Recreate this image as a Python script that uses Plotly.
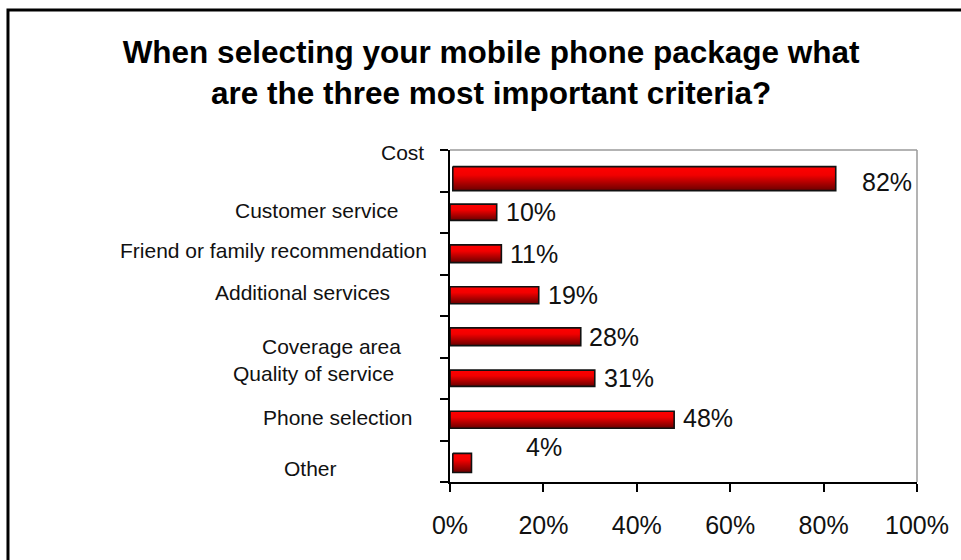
import plotly.graph_objects as go

# ---- data -------------------------------------------------------------
criteria = [
    "Cost",
    "Customer service",
    "Friend or family recommendation",
    "Additional services",
    "Coverage area",
    "Quality of service",
    "Phone selection",
    "Other",
]
share_pct = [82, 10, 11, 19, 28, 31, 48, 4]
x_ticks = [0, 20, 40, 60, 80, 100]
x_tick_labels = [f"{t}%" for t in x_ticks]

title_text = ("When selecting your mobile phone package what<br>"
              "are the three most important criteria?")

# ---- per-bar styling ----------------------------------------------------
# bar thickness and vertical shift in category units, start offset in %
bar_thickness = [0.58, 0.39, 0.43, 0.41, 0.43, 0.39, 0.41, 0.46]
bar_shift = [0.19, 0.0, 0.0, 0.0, 0.0, 0.0, 0.0, 0.04]
bar_start = [0.6, 0.0, 0.0, 0.0, 0.0, 0.0, 0.0, 0.6]

# category label placement: (right-edge shift px, vertical shift px)
label_dx = [-24, -50, -21, -58, -47, -54, -36, -111]
label_dy = [18, 2, 3, 2.5, -10, 5, 2, -7]

# value label placement: (horizontal gap px, vertical shift px)
value_dx = [24, 7, 7, 7, 6, 7, 7, 53]
value_dy = [-11, 0, 0, 0, 0, 0, 1.5, 14.5]

FONT = "Liberation Sans, Arial, sans-serif"
bar_gradient = [[0.0, "#ff0000"], [0.35, "#f20000"], [1.0, "#6a0000"]]

fig = go.Figure()

for k, (name, v) in enumerate(zip(criteria, share_pct)):
    x0 = bar_start[k]
    x1 = bar_start[k] + v
    yc = k + bar_shift[k]
    h = bar_thickness[k] / 2
    fig.add_trace(go.Scatter(
        x=[x0, x1, x1, x0, x0],
        y=[yc - h, yc - h, yc + h, yc + h, yc - h],
        mode="lines",
        fill="toself",
        fillgradient=dict(type="vertical", colorscale=bar_gradient,
                          start=yc - h, stop=yc + h),
        line=dict(color="#111111", width=1.6),
        name=name,
        hoverinfo="skip",
        showlegend=False,
    ))

annotations = []
for k, name in enumerate(criteria):
    annotations.append(dict(
        x=0, y=k, xref="x", yref="y", text=name, showarrow=False,
        xanchor="right", yanchor="middle",
        xshift=label_dx[k], yshift=label_dy[k],
        font=dict(family=FONT, size=21, color="#111111"),
    ))
for k, v in enumerate(share_pct):
    annotations.append(dict(
        x=bar_start[k] + v, y=k, xref="x", yref="y", text=f"{v}%",
        showarrow=False, xanchor="left", yanchor="middle",
        xshift=value_dx[k], yshift=value_dy[k],
        font=dict(family=FONT, size=25, color="#111111"),
    ))

shapes = [
    # outer frame
    dict(type="rect", xref="paper", yref="paper",
         x0=-0.9465, x1=1.12, y0=-0.3, y1=1.4217,
         line=dict(color="#000000", width=3), layer="below"),
    # light plot-area border on top and right
    dict(type="line", xref="paper", yref="paper", x0=0, x1=1, y0=1, y1=1,
         line=dict(color="#9a9a9a", width=1.5)),
    dict(type="line", xref="paper", yref="paper", x0=1, x1=1, y0=0, y1=1,
         line=dict(color="#9a9a9a", width=1.5)),
]

fig.update_layout(
    width=961, height=560,
    margin=dict(l=450, r=44, t=150, b=78),
    paper_bgcolor="white", plot_bgcolor="white",
    title=dict(text=title_text, x=0.511, xref="container", xanchor="center",
               y=0.888, yref="container", yanchor="top",
               font=dict(family=FONT, size=31.5, color="#000000", weight="bold")),
    annotations=annotations,
    shapes=shapes,
    showlegend=False,
)

fig.update_xaxes(
    range=[0, 100], tickvals=x_ticks, ticktext=x_tick_labels,
    ticks="outside", ticklen=8, tickcolor="#000000", tickwidth=1.5,
    showline=True, linecolor="#000000", linewidth=1.5,
    showgrid=False, zeroline=False,
    tickfont=dict(family=FONT, size=25, color="#111111"),
    ticklabelstandoff=12, fixedrange=True,
)
fig.update_yaxes(
    range=[7.5, -0.5], tickvals=[i - 0.5 for i in range(len(criteria) + 1)],
    showticklabels=False,
    ticks="outside", ticklen=8, tickcolor="#000000", tickwidth=1.5,
    showline=True, linecolor="#000000", linewidth=1.5,
    showgrid=False, zeroline=False, fixedrange=True,
)

fig.write_html("out.html")
